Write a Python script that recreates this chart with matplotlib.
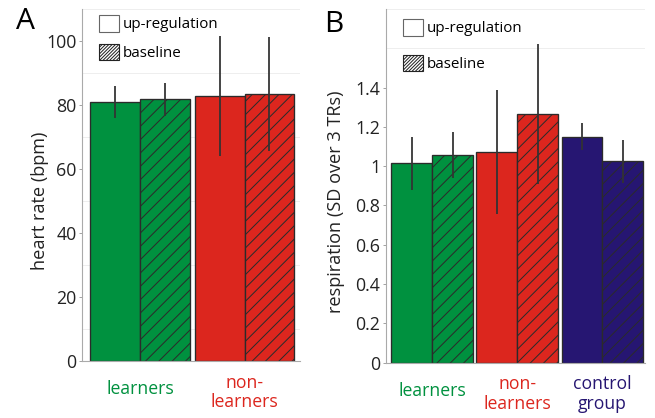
import numpy as np
import matplotlib.pyplot as plt
from matplotlib.patches import Patch
from matplotlib.transforms import blended_transform_factory

plt.rcParams['font.family'] = ['Open Sans', 'DejaVu Sans']
plt.rcParams['hatch.linewidth'] = 0.9

# panel A: heart rate
groups_a = ['learners', 'non-\nlearners']
colors_a = ['#00913f', '#dc261e']
hr_up = [81.0, 82.9]
hr_up_err = [5.0, 18.7]
hr_base = [81.8, 83.3]
hr_base_err = [5.1, 17.8]
ticks_a = [0, 20, 40, 60, 80, 100]
ticklabels_a = ['0', '20', '40', '60', '80', '100']

# panel B: respiration
groups_b = ['learners', 'non-\nlearners', 'control\ngroup']
colors_b = ['#00913f', '#dc261e', '#261672']
resp_up = [1.015, 1.073, 1.151]
resp_up_err = [0.135, 0.315, 0.07]
resp_base = [1.056, 1.264, 1.025]
resp_base_err = [0.117, 0.356, 0.11]
ticks_b = [0, 0.2, 0.4, 0.6, 0.8, 1.0, 1.2, 1.4]
ticklabels_b = ['0', '0.2', '0.4', '0.6', '0.8', '1', '1.2', '1.4']

DPI = 80
fig = plt.figure(figsize=(655 / DPI, 418 / DPI), dpi=DPI)
axA = fig.add_axes([82 / 655, 57 / 418, 218 / 655, 352 / 418])
axB = fig.add_axes([385.7 / 655, 55.3 / 418, 259.3 / 655, 353.7 / 418])


def panel(ax, groups, colors, up, up_err, base, base_err, width, xlim, ylim,
          grid_step, ticks, ticklabels, ylabel, label_xy, leg_anchor, leg_space):
    x = np.arange(len(groups))
    ekw = dict(ecolor='#333333', elinewidth=1.6, capsize=0)
    ax.bar(x - width / 2, up, width, yerr=up_err, color=colors,
           edgecolor='#2b2b2b', linewidth=1.2, error_kw=ekw, zorder=2)
    ax.bar(x + width / 2, base, width, yerr=base_err, color=colors,
           edgecolor='#2b2b2b', linewidth=1.2, hatch='//', error_kw=ekw, zorder=2)
    ax.set_xlim(*xlim)
    ax.set_ylim(*ylim)
    ax.set_xticks([])
    ax.set_yticks(ticks)
    ax.set_yticklabels(ticklabels, fontsize=16, color='#222222')
    ax.set_yticks(np.arange(0, ylim[1] + grid_step / 2, grid_step), minor=True)
    ax.tick_params(axis='y', which='major', length=3, color='#999999', pad=2)
    ax.tick_params(axis='y', which='minor', length=0)
    ax.grid(True, which='minor', axis='y', color='#ececec', linewidth=0.8)
    ax.set_axisbelow(True)
    for s in ['top', 'right']:
        ax.spines[s].set_visible(False)
    for s in ['left', 'bottom']:
        ax.spines[s].set_color('#aaaaaa')
        ax.spines[s].set_linewidth(1.0)
    ax.set_ylabel(ylabel, fontsize=16.3, color='#222222')
    ax.yaxis.set_label_coords(*label_xy)

    tr = blended_transform_factory(ax.transData, ax.transAxes)
    for xi, g, c in zip(x, groups, colors):
        yy = -0.089 if '\n' in g else -0.079
        ax.text(xi, yy, g, transform=tr, ha='center', va='center',
                color=c, fontsize=15.9, linespacing=1.1)

    handles = [Patch(facecolor='white', edgecolor='#666666', linewidth=1.0),
               Patch(facecolor='white', edgecolor='#222222', linewidth=1.0,
                     hatch='////////')]
    ax.legend(handles, ['up-regulation', 'baseline'], loc='upper left',
              bbox_to_anchor=leg_anchor, frameon=False, fontsize=13.6,
              handlelength=1.32, handleheight=1.32, handletextpad=0.27,
              borderpad=0, borderaxespad=0, labelspacing=leg_space)


panel(axA, groups_a, colors_a, hr_up, hr_up_err, hr_base, hr_base_err,
      0.475, (-0.555, 1.531), (0, 110), 10, ticks_a, ticklabels_a,
      'heart rate (bpm)', (-0.153, 0.4545), (0.078, 0.983), 0.75)
panel(axB, groups_b, colors_b, resp_up, resp_up_err, resp_base, resp_base_err,
      0.48, (-0.548, 2.502), (0, 1.8), 0.2, ticks_b, ticklabels_b,
      'respiration (SD over 3 TRs)', (-0.158, 0.456), (0.066, 0.972), 1.22)

fig.text(25 / 655, 1 - 21.5 / 418, 'A', fontsize=27, ha='center', va='center')
fig.text(333.5 / 655, 1 - 25 / 418, 'B', fontsize=27, ha='center', va='center')

fig.savefig('out.png', dpi=DPI)
